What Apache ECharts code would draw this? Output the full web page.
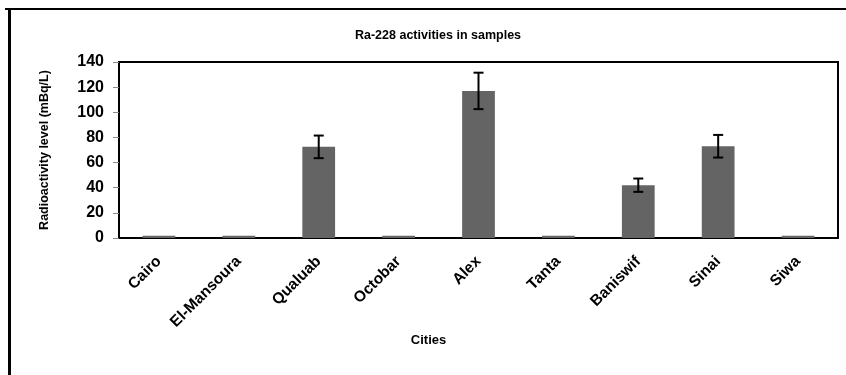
<!DOCTYPE html>
<html><head><meta charset="utf-8">
<script src="https://cdn.jsdelivr.net/npm/echarts@6/dist/echarts.min.js"></script>
<style>html,body{margin:0;padding:0;background:#fff}#c{width:846px;height:375px}</style>
</head><body><div id="c"></div>
<script>
const categories = ['Cairo','El-Mansoura','Qualuab','Octobar','Alex','Tanta','Baniswif','Sinai','Siwa'];
const values = [1.8, 1.8, 72.5, 1.8, 117, 1.8, 42, 73, 1.8];
const errors = [null, null, 9, null, 14.5, null, 5.3, 9, null];
const yTicks = [0, 20, 40, 60, 80, 100, 120, 140];

const FONT = '"Liberation Sans",Arial,sans-serif';
const chart = echarts.init(document.getElementById('c'));
chart.setOption({
  animation: false,
  title: {
    text: 'Ra-228 activities in samples', left: 433, top: 24, textAlign: 'center',
    textStyle: {fontFamily: FONT, fontWeight: 'bold', fontSize: 12.5, color: '#000'}
  },
  grid: {left: 119, right: 8, top: 62, bottom: 137, show: true, borderColor: '#000', borderWidth: 2, backgroundColor: 'transparent'},
  xAxis: {
    type: 'category', data: categories,
    axisLine: {lineStyle: {color: '#000', width: 2}},
    axisTick: {show: false},
    axisLabel: {rotate: 45, margin: 21, fontFamily: FONT, fontWeight: 'bold', fontSize: 15.5, color: '#000', interval: 0},
    name: 'Cities', nameLocation: 'middle', nameGap: 96,
    nameTextStyle: {fontFamily: FONT, fontWeight: 'bold', fontSize: 13, color: '#000', padding: [0, 0, 0, -100]}
  },
  yAxis: {
    type: 'value', min: yTicks[0], max: yTicks[yTicks.length - 1], interval: 20,
    axisLine: {show: true, lineStyle: {color: '#000', width: 1.5}},
    axisTick: {show: true, length: 6, lineStyle: {color: '#888'}},
    splitLine: {show: false},
    axisLabel: {fontFamily: FONT, fontWeight: 'bold', fontSize: 16, color: '#000', margin: 15},
    name: 'Radioactivity level (mBq/L)', nameLocation: 'middle', nameGap: 68,
    nameTextStyle: {fontFamily: FONT, fontWeight: 'bold', fontSize: 12.5, color: '#000'}
  },
  series: [
    {type: 'bar', data: values, barWidth: '41%', itemStyle: {color: '#646464'}},
    {
      type: 'custom',
      data: values.map((v, i) => errors[i] == null ? [i, '-', '-'] : [i, v - errors[i], v + errors[i]]),
      renderItem: function (params, api) {
        if (isNaN(api.value(1))) return null;
        const lo = api.coord([api.value(0), api.value(1)]);
        const hi = api.coord([api.value(0), api.value(2)]);
        const x = lo[0], hw = 5;
        return {type: 'group', children: [
          {type: 'line', shape: {x1: x, y1: lo[1], x2: x, y2: hi[1]}, style: {stroke: '#000', lineWidth: 2}},
          {type: 'line', shape: {x1: x - hw, y1: lo[1], x2: x + hw, y2: lo[1]}, style: {stroke: '#000', lineWidth: 2}},
          {type: 'line', shape: {x1: x - hw, y1: hi[1], x2: x + hw, y2: hi[1]}, style: {stroke: '#000', lineWidth: 2}}
        ]};
      },
      z: 5
    }
  ],
  graphic: [
    {type: 'line', shape: {x1: 5, y1: 9, x2: 846, y2: 9}, style: {stroke: '#000', lineWidth: 2}},
    {type: 'line', shape: {x1: 9.5, y1: 9, x2: 9.5, y2: 375}, style: {stroke: '#000', lineWidth: 3}}
  ]
});
</script></body></html>
